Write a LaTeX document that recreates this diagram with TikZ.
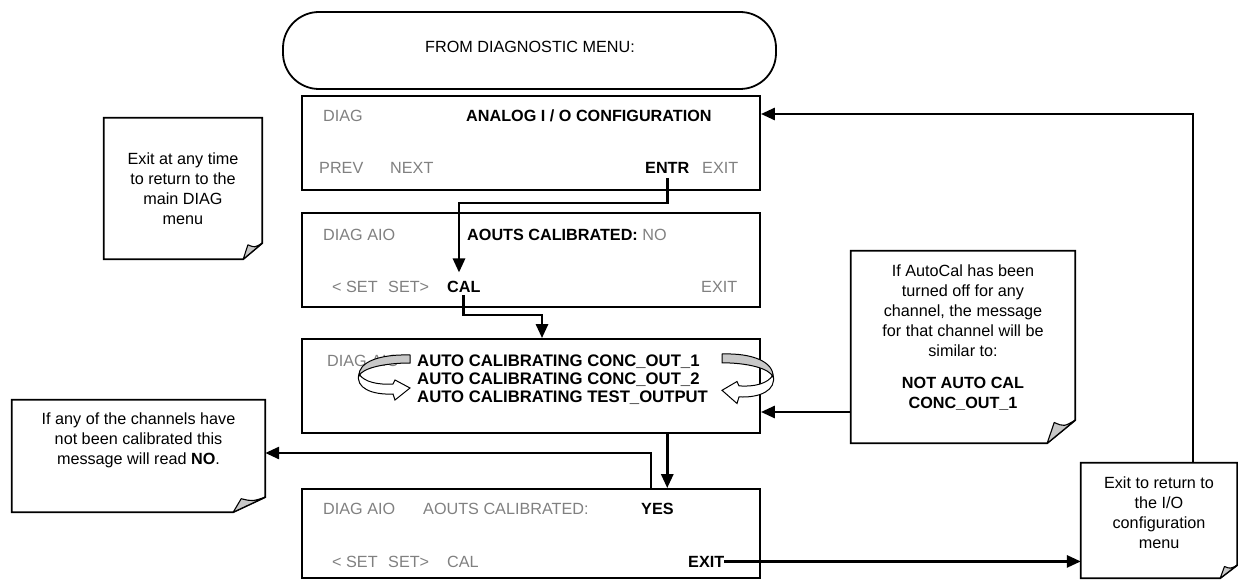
\documentclass[tikz,border=0pt]{standalone}
\usepackage{fontspec}
\setmainfont{Liberation Sans}
\usetikzlibrary{arrows.meta}
\definecolor{txtgray}{RGB}{128,128,128}
\definecolor{foldgray}{RGB}{200,200,200}
% dog-eared note outline: #1 node name, #2 fold width, #3 fold height
\newcommand\dognote[3]{%
  \draw[noteline] (#1.north west) -- (#1.north east) -- ([yshift=#3]#1.south east)
     -- ([xshift=-#2]#1.south east) -- (#1.south west) -- cycle;
  \filldraw[foldline] ([xshift=-#2]#1.south east)
     -- ([xshift=-0.75*#2, yshift=0.9*#3]#1.south east)
     .. controls ([xshift=-0.4*#2, yshift=0.72*#3]#1.south east) .. ([yshift=#3]#1.south east) -- cycle;
}
% curved 3D arrow, local origin = top of flat gray end
\newcommand\turnarrow{%
  \filldraw[fill=white, draw=black, line width=1pt, line join=miter]
    (-51,19) .. controls (-46,27) and (-32,30) .. (-17,29) -- (-15,25) -- (0,33)
    -- (-15,45) -- (-17,39) .. controls (-38,40) and (-55,33) .. (-51,19) -- cycle;
  \filldraw[fill=foldgray, draw=black, line width=1pt]
    (0,0) .. controls (-30,-1) and (-52,7) .. (-51,21)
    .. controls (-48,13) and (-25,8) .. (0,8) -- cycle;
}
\begin{document}
\begin{tikzpicture}[x=1pt, y=-1pt,
  screen/.style={draw, line width=1.8pt, minimum width=458pt, minimum height=94pt, inner sep=0pt},
  lbl/.style={inner sep=0pt, font=\fontsize{16.2pt}{19.8pt}\selectfont, anchor=base west},
  glbl/.style={lbl, text=txtgray},
  blbl/.style={lbl, font=\fontsize{16.2pt}{19.8pt}\selectfont\bfseries},
  conn/.style={line width=2.8pt, -{Triangle[length=14pt,width=12pt]}},
  notebox/.style={inner sep=0pt, draw=none},
  notetext/.style={inner sep=0pt, align=center, anchor=north, font=\fontsize{16.2pt}{19.8pt}\selectfont},
  noteline/.style={line width=1.7pt, line join=miter},
  foldline/.style={fill=foldgray, draw=black, line width=1.1pt, line join=round}
]
\useasboundingbox (0,0) rectangle (1238,580);

% start terminal
\node[draw, line width=1.8pt, rounded corners=36pt, minimum width=493pt, minimum height=77pt, inner sep=0pt] (start) at (529.5,50.5) {};
\node[lbl, anchor=base] (starttxt) at (530,53) {FROM DIAGNOSTIC MENU:};

% screens
\node[screen] (b1) at (531,143) {};
\node[screen] (b2) at (531,260) {};
\node[screen] (b3) at (531,386) {};
\node[screen, minimum height=89pt] (b4) at (531,533.5) {};

% box 1 texts
\node[glbl] (diag1) at (323,122) {DIAG};
\node[blbl] (title1) at (466,122) {ANALOG I / O CONFIGURATION};
\node[glbl] (prev1) at (319,174) {PREV};
\node[glbl] (next1) at (390,174) {NEXT};
\node[blbl] (entr) at (645,174) {ENTR};
\node[glbl] (exit1) at (702,174) {EXIT};

% box 2 texts
\node[glbl] (diag2) at (323,240) {DIAG AIO};
\node[lbl] (aouts2) at (467,240) {\bfseries AOUTS CALIBRATED: \mdseries\color{txtgray}NO};
\node[glbl] (set2a) at (332,292) {< SET};
\node[glbl] (set2b) at (388,292) {SET>};
\node[blbl] (cal) at (447,292) {CAL};
\node[glbl] (exit2) at (701,292) {EXIT};

% box 3 texts
\node[glbl] (diag3) at (327,366) {DIAG AIO};
\node[inner sep=0pt, anchor=north west, align=left, font=\fontsize{16.7pt}{17.6pt}\selectfont\bfseries] (auto3) at (417,355)
  {AUTO CALIBRATING CONC\_OUT\_1\\AUTO CALIBRATING CONC\_OUT\_2\\AUTO CALIBRATING TEST\_OUTPUT};

% box 4 texts
\node[glbl] (diag4) at (323,514) {DIAG AIO};
\node[glbl] (aouts4) at (423,514) {AOUTS CALIBRATED:};
\node[blbl] (yes) at (641,514) {YES};
\node[glbl] (set4a) at (332,567) {< SET};
\node[glbl] (set4b) at (388,567) {SET>};
\node[glbl] (cal4) at (447,567) {CAL};
\node[blbl] (exit4) at (688,567) {EXIT};

% curved arrows in box 3
\begin{scope}[shift={(410,355)}]
  \turnarrow
\end{scope}
\begin{scope}[shift={(722,354)}, xscale=-1, yscale=1.1]
  \turnarrow
\end{scope}

% notes
\node[notebox, minimum width=158pt, minimum height=141pt] (n1) at (183,188.5) {};
\dognote{n1}{19pt}{16pt}
\node[notetext] (n1t) at (183,153) {Exit at any time\\to return to the\\main DIAG\\menu};

\node[notebox, minimum width=253pt, minimum height=112pt] (n2) at (138.5,456) {};
\dognote{n2}{32pt}{15pt}
\node[notetext] (n2t) at (138.5,413) {If any of the channels have\\not been calibrated this\\message will read \textbf{NO}.};

\node[notebox, minimum width=224pt, minimum height=192pt] (n3) at (963,347) {};
\dognote{n3}{28pt}{23pt}
\node[notetext] (n3t) at (963,265) {If AutoCal has been\\turned off for any\\channel, the message\\for that channel will be\\similar to:\\[13pt]\textbf{NOT AUTO CAL}\\\textbf{CONC\_OUT\_1}};

\node[notebox, minimum width=156pt, minimum height=115pt] (n4) at (1159,520.5) {};
\dognote{n4}{17pt}{13pt}
\node[notetext] (n4t) at (1159,477) {Exit to return to\\the I/O\\configuration\\menu};

% connectors
\coordinate (j1) at (459,203);
\draw[conn, shorten >=8pt] ([yshift=-4pt]entr.south) |- (j1) -- (j1 |- cal.north);
\coordinate (j2) at (542,315);
\draw[conn] ([yshift=-3pt]cal.south) |- (j2) -- (j2 |- b3.north);
\draw[conn] (b3.south -| entr.south) -- (b4.north -| entr.south);
\coordinate (j4) at (651,453);
\draw[conn] (b4.north -| j4) -- (j4) -- (j4 -| n2.east);
\coordinate (j5) at (851,412);
\draw[conn] (j5) -- (j5 -| b3.east);
\draw[conn] (exit4.east) -- (n4.west |- exit4.east);
\coordinate (j7) at (1193,114);
\draw[conn] (n4.north -| j7) -- (j7) -- (j7 -| b1.east);
\end{tikzpicture}
\end{document}
